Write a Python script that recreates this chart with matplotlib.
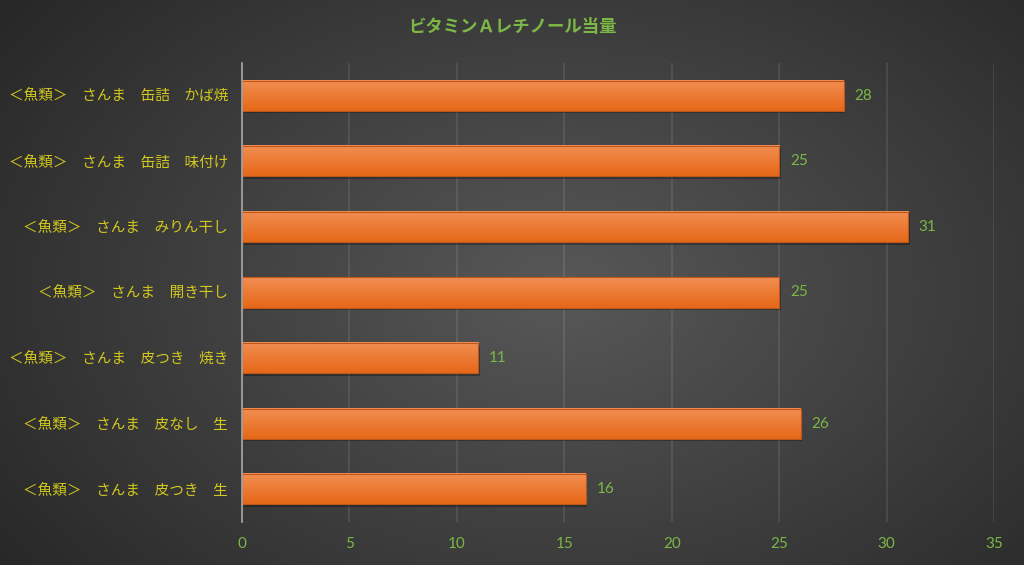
import numpy as np
import matplotlib.pyplot as plt

plt.rcParams['font.family'] = ['Noto Sans CJK JP', 'DejaVu Sans']

# bottom to top
labels = [
    "＜魚類＞　さんま　皮つき　生",
    "＜魚類＞　さんま　皮なし　生",
    "＜魚類＞　さんま　皮つき　焼き",
    "＜魚類＞　さんま　開き干し",
    "＜魚類＞　さんま　みりん干し",
    "＜魚類＞　さんま　缶詰　味付け",
    "＜魚類＞　さんま　缶詰　かば焼",
]
values = [16, 26, 11, 25, 31, 25, 28]
title = "ビタミンＡレチノール当量"

label_color = "#D2C81E"
num_color = "#7CB846"

fig = plt.figure(figsize=(10.24, 5.65), dpi=100)

# radial dark background
bg = fig.add_axes([0, 0, 1, 1], zorder=-10)
yy, xx = np.mgrid[0:565, 0:1024]
r = np.sqrt(((xx - 560) / 620.0) ** 2 + ((yy - 290) / 420.0) ** 2)
shade = np.clip(0.345 - 0.17 * r, 0.16, 0.36)
bg.imshow(np.dstack([shade] * 3), aspect='auto', extent=[0, 1, 0, 1])
bg.axis('off')

ax = fig.add_axes([242 / 1024, 1 - 522 / 565, 752 / 1024, 459 / 565])
ax.patch.set_alpha(0)

y = np.arange(len(values))
h = 0.46
# gradient fill for bars
grad = np.linspace(0, 1, 50).reshape(-1, 1)
top = np.array([0xF2, 0x8E, 0x52]) / 255
bot = np.array([0xE6, 0x68, 0x18]) / 255
img = top + (bot - top) * grad[..., None]
img = img.reshape(50, 1, 3)
for yi, v in zip(y, values):
    # shadow
    ax.barh(yi - 0.04, v, height=h, left=0.08, color='black', alpha=0.3, zorder=2)
    ax.imshow(img, aspect='auto', extent=[0, v, yi - h / 2, yi + h / 2], zorder=3)
    ax.barh(yi, v, height=h, color='none', edgecolor='#C0571A', linewidth=0.8, zorder=4)
    ax.text(v + 0.5, yi, str(v), va='center', ha='left', color=num_color, fontsize=11,
            family=['Lato', 'DejaVu Sans'], zorder=5)

ax.set_xlim(0, 35)
ax.set_ylim(-0.5, len(values) - 0.5)
ax.set_xticks(np.arange(0, 36, 5))
ax.set_yticks(y)
ax.set_yticklabels(labels, color=label_color, fontsize=10.5)
ax.tick_params(axis='x', colors=num_color, labelsize=11, length=0, pad=11)
for t in ax.get_xticklabels():
    t.set_family(['Lato', 'DejaVu Sans'])
ax.tick_params(axis='y', length=0, pad=10)
ax.grid(axis='x', color='#FFFFFF', alpha=0.09, linewidth=1.5, zorder=0)
ax.set_axisbelow(True)
for s in ['top', 'right', 'bottom']:
    ax.spines[s].set_visible(False)
ax.spines['left'].set_color('#A8A8A8')
ax.spines['left'].set_linewidth(1.2)
ax.spines['left'].set_zorder(6)

fig.text(0.5, 1 - 27 / 565, title, ha='center', va='center', color=num_color,
         fontsize=12.5, fontweight='bold')

fig.savefig('out.png', dpi=100)
